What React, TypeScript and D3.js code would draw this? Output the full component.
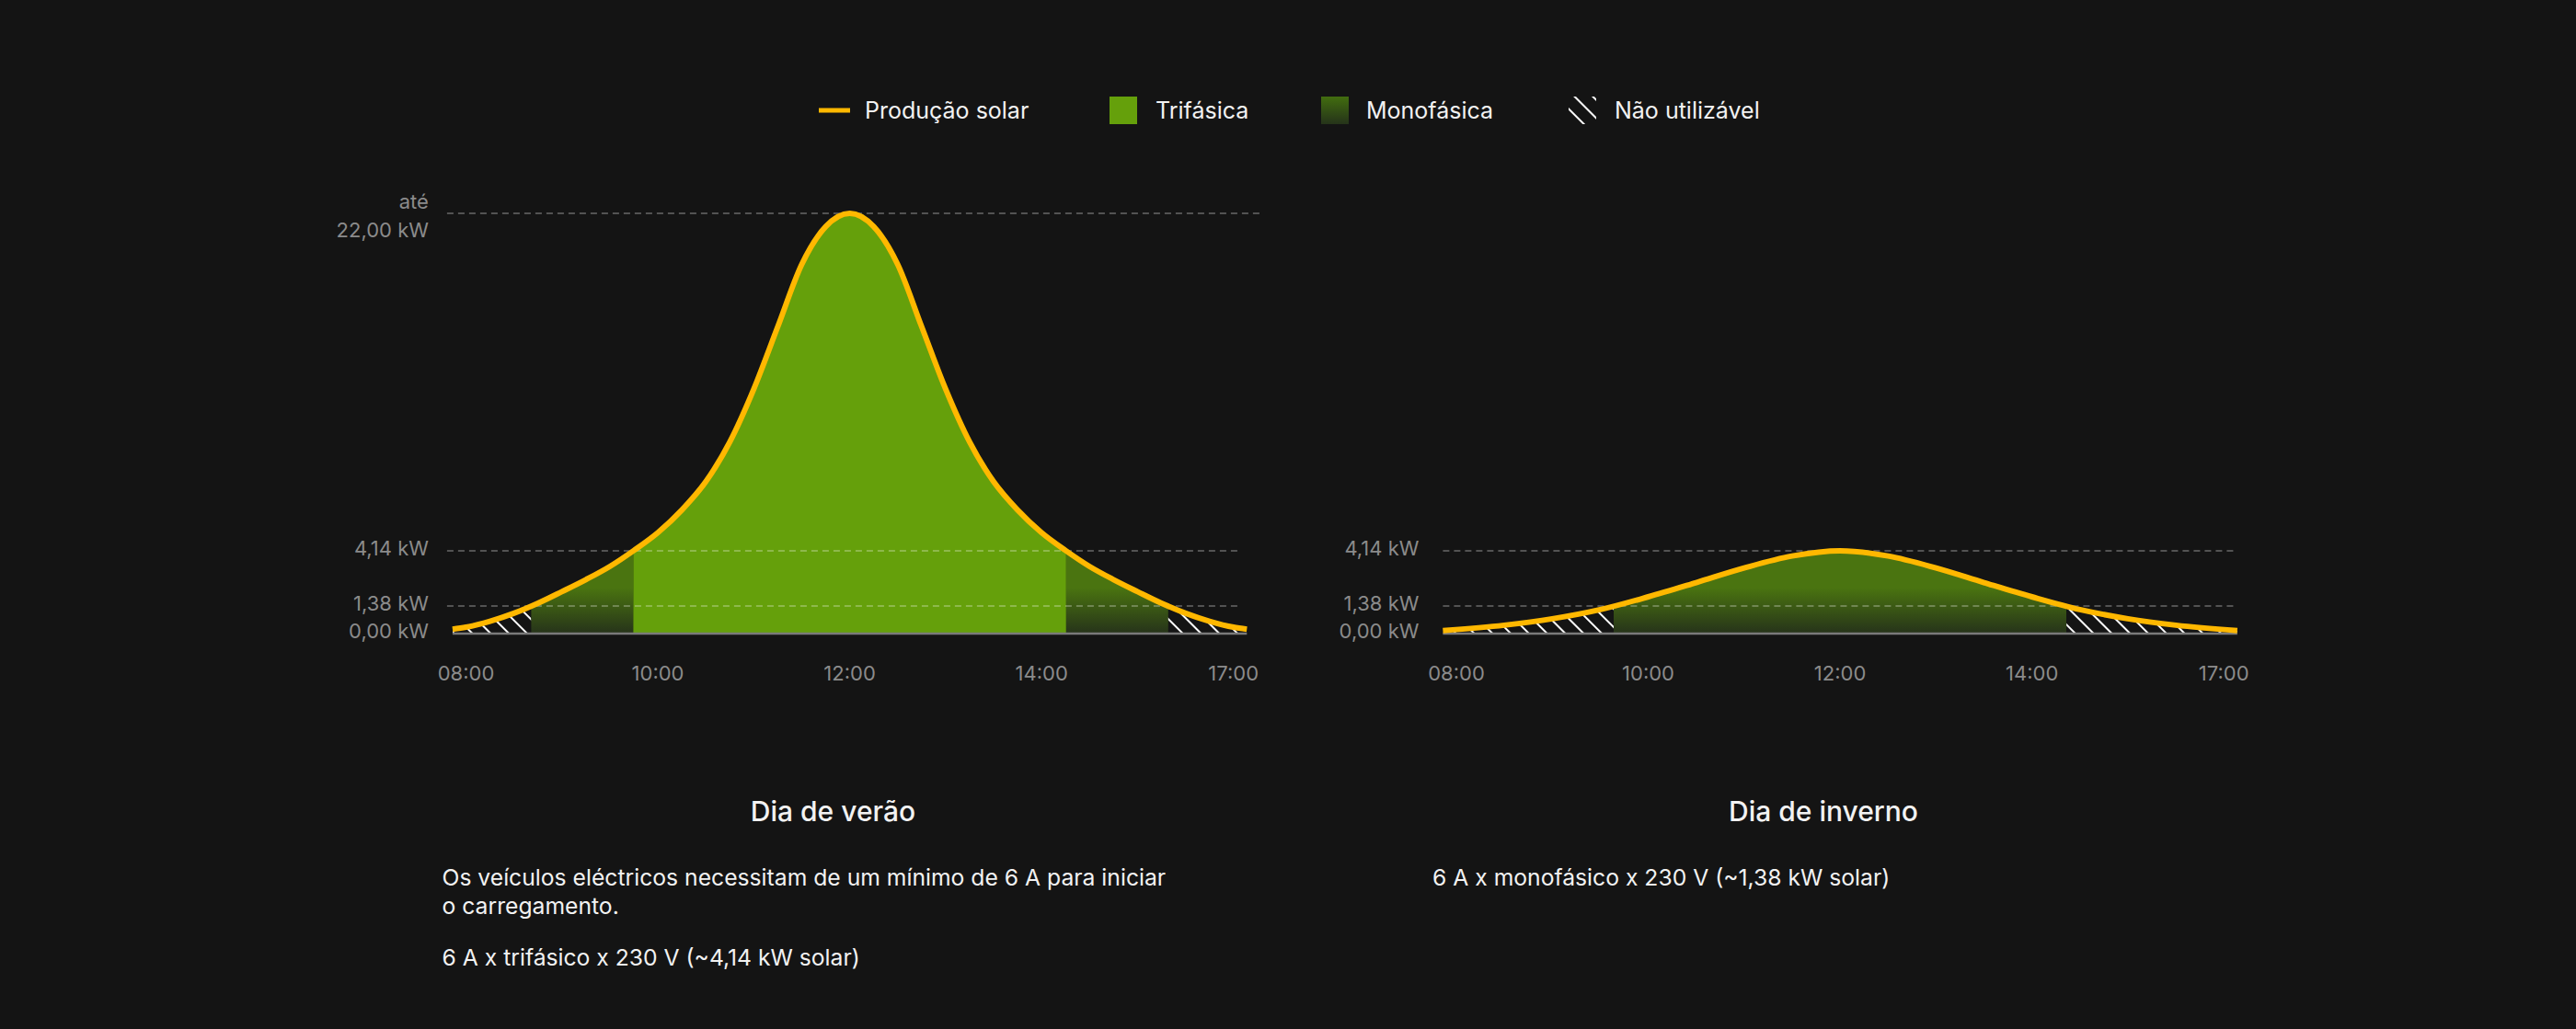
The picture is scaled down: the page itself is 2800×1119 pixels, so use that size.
import * as d3 from 'd3';

// Time axis (hours) and the labels printed under it
const hourTicks = [8, 10, 12, 14, 16];
const hourLabels = ['08:00', '10:00', '12:00', '14:00', '17:00'];

// Power reference levels (kW)
const threePhaseKw = 4.14;
const singlePhaseKw = 1.38;
const maxKw = 22;
const summerLevels = [0, 1.38, 4.14, 22];
const summerLevelLabels = ['0,00 kW', '1,38 kW', '4,14 kW', '22,00 kW'];
const winterLevels = [0, 1.38, 4.14];
const winterLevelLabels = ['0,00 kW', '1,38 kW', '4,14 kW'];

// Summer day solar production (hour, kW)
const summerHours = [7.86, 8.0, 8.25, 8.5, 8.75, 9.0, 9.25, 9.5, 9.75, 10.0, 10.25, 10.5, 10.75, 11.0, 11.25, 11.5, 11.75, 12.0,
    12.25, 12.5, 12.75, 13.0, 13.25, 13.5, 13.75, 14.0, 14.25, 14.5, 14.75, 15.0, 15.25, 15.5, 15.75, 16.0, 16.14];
const summerKw = [0.22, 0.32, 0.62, 1.02, 1.52, 2.1, 2.7, 3.36, 4.16, 5.1, 6.3, 7.8, 9.9, 12.7, 16.0, 19.3, 21.3, 22.0,
    21.3, 19.3, 16.0, 12.7, 9.9, 7.8, 6.3, 5.1, 4.16, 3.36, 2.7, 2.1, 1.52, 1.02, 0.62, 0.32, 0.22];

// Winter day solar production (hour, kW)
const winterHours = [7.86, 8.5, 9.0, 9.5, 10.0, 10.5, 11.0, 11.5, 12.0, 12.5, 13.0, 13.5, 14.0, 14.5, 15.0, 15.5, 16.14];
const winterKw = [0.15, 0.42, 0.74, 1.2, 1.84, 2.55, 3.28, 3.88, 4.14, 3.88, 3.28, 2.55, 1.84, 1.2, 0.74, 0.42, 0.15];

const legendLabels = ['Produção solar', 'Trifásica', 'Monofásica', 'Não utilizável'];
const panelTitles = ['Dia de verão', 'Dia de inverno'];
const summerNotes = [
    ['Os veículos eléctricos necessitam de um mínimo de 6 A para iniciar', 'o carregamento.'],
    ['6 A x trifásico x 230 V (~4,14 kW solar)'],
];
const winterNotes = [['6 A x monofásico x 230 V (~1,38 kW solar)']];

// Colours
const BG = '#141414';
const SUN = '#ffb800';
const TRI = '#65a00b';
const MONO_TOP = '#4a7410';
const MONO_BOTTOM = '#26331a';
const MUTED = '#8b8b8b';
const TEXT = '#f2f2f2';
const FONT = 'Inter, "Noto Sans", sans-serif';

// Layout
const WIDTH = 2800;
const HEIGHT = 1119;
const PLOT_BOTTOM = 689;
const PLOT_TOP = 232;
const PANEL_SHIFT = 1076.5;

interface Point { h: number; kw: number; }
interface Band { from: number; to: number; kind: 'tri' | 'mono' | 'none'; }

// Find the hours where the curve crosses a power level (linear between samples)
const crossings = (pts: Point[], level: number): number[] => {
    const out: number[] = [];
    for (let i = 1; i < pts.length; i++) {
        const a = pts[i - 1], b = pts[i];
        if ((a.kw - level) * (b.kw - level) < 0 || (b.kw === level && a.kw !== level)) {
            const t = (level - a.kw) / (b.kw - a.kw);
            out.push(a.h + t * (b.h - a.h));
        }
    }
    return out;
};

// Split the day into usable / unusable bands
const buildBands = (pts: Point[], useThreePhase: boolean): Band[] => {
    const start = pts[0].h, end = pts[pts.length - 1].h;
    const cuts = [start, ...crossings(pts, singlePhaseKw)];
    if (useThreePhase) cuts.push(...crossings(pts, threePhaseKw));
    cuts.push(end);
    const sorted = Array.from(new Set(cuts)).sort((a, b) => a - b);
    const interp = d3.scaleLinear().domain(pts.map(p => p.h)).range(pts.map(p => p.kw));
    const bands: Band[] = [];
    for (let i = 1; i < sorted.length; i++) {
        const mid = interp((sorted[i - 1] + sorted[i]) / 2);
        let kind: Band['kind'] = 'none';
        if (useThreePhase && mid >= threePhaseKw) kind = 'tri';
        else if (mid >= singlePhaseKw) kind = 'mono';
        bands.push({ from: sorted[i - 1], to: sorted[i], kind });
    }
    return bands;
};

interface PanelProps {
    id: string;
    shift: number;
    hours: number[];
    kw: number[];
    levels: number[];
    levelLabels: string[];
    useThreePhase: boolean;
    title: string;
    notes: string[][];
}

const Panel = ({ id, shift, hours, kw, levels, levelLabels, useThreePhase, title, notes }: PanelProps) => {
    const pts: Point[] = hours.map((h, i) => ({ h, kw: kw[i] }));
    const x = d3.scaleLinear().domain([8, 16]).range([506.5 + shift, 1340.7 + shift]);
    const y = d3.scaleLinear().domain([0, threePhaseKw, maxKw]).range([PLOT_BOTTOM, PLOT_BOTTOM - 90, PLOT_TOP]);

    const area = d3.area<Point>().x(d => x(d.h)).y0(y(0)).y1(d => y(d.kw)).curve(d3.curveMonotoneX);
    const line = d3.line<Point>().x(d => x(d.h)).y(d => y(d.kw)).curve(d3.curveMonotoneX);
    const bands = buildBands(pts, useThreePhase);

    const x0 = x(hours[0]);
    const x1 = x(hours[hours.length - 1]);
    const fillFor = (kind: Band['kind']) =>
        kind === 'tri' ? TRI : kind === 'mono' ? `url(#mono-${id})` : 'url(#hatch)';

    // Text column under the chart
    const colX = x(8) - 26;
    const colW = 850;

    return (
        <g>
            <defs>
                <linearGradient id={`mono-${id}`} gradientUnits="userSpaceOnUse" x1="0" x2="0" y1={y(2.3)} y2={y(0)}>
                    <stop offset="0" stopColor={MONO_TOP} />
                    <stop offset="1" stopColor={MONO_BOTTOM} />
                </linearGradient>
                {bands.map((b, i) => (
                    <clipPath key={i} id={`band-${id}-${i}`}>
                        <rect x={x(b.from)} y={0} width={x(b.to) - x(b.from)} height={HEIGHT} />
                    </clipPath>
                ))}
            </defs>

            {/* Filled bands under the production curve */}
            {bands.map((b, i) => (
                <path key={i} d={area(pts) ?? ''} fill={fillFor(b.kind)} clipPath={`url(#band-${id}-${i})`} />
            ))}

            {/* Dashed reference levels */}
            {levels.filter(l => l > 0).map(l => (
                <line key={l} x1={x0 - (useThreePhase ? 6 : 0)} x2={l === maxKw ? x1 + 18 : x1 - (useThreePhase ? 7 : 0)}
                      y1={y(l)} y2={y(l)} stroke="#ffffff" strokeOpacity={0.36} strokeWidth={1.5} strokeDasharray="7 5" />
            ))}

            {/* Baseline */}
            <line x1={x0} x2={x1} y1={y(0)} y2={y(0)} stroke="#7a7a7a" strokeWidth={2.5} />

            {/* Production curve */}
            <path d={line(pts) ?? ''} fill="none" stroke={SUN} strokeWidth={6} strokeLinejoin="round" />

            {/* Level labels */}
            <g fontFamily={FONT} fontSize={22} fill={MUTED} textAnchor="end">
                {levels.map((l, i) => l === maxKw ? (
                    <g key={l}>
                        <text x={x0 - 26} y={y(l) - 5}>até</text>
                        <text x={x0 - 26} y={y(l) + 26}>{levelLabels[i]}</text>
                    </g>
                ) : (
                    <text key={l} x={x0 - 26} y={y(l) - 3} dominantBaseline="central">{levelLabels[i]}</text>
                ))}
            </g>

            {/* Time labels */}
            <g fontFamily={FONT} fontSize={22} fill={MUTED} textAnchor="middle">
                {hourTicks.map((h, i) => (
                    <text key={h} x={x(h)} y={740}>{hourLabels[i]}</text>
                ))}
            </g>

            {/* Title and notes */}
            <text x={colX + colW / 2} y={893} textAnchor="middle" fontFamily={FONT} fontSize={30} fontWeight={500} fill={TEXT}>
                {title}
            </text>
            <g fontFamily={FONT} fontSize={24.7} fill={TEXT}>
                {notes.map((para, p) => para.map((ln, k) => (
                    <text key={`${p}-${k}`} x={colX} y={963 + p * 87 + k * 31}>{ln}</text>
                )))}
            </g>
        </g>
    );
};

const Legend = () => {
    const itemX = [890, 1206, 1436, 1705];
    const textX = [940, 1256, 1485, 1755];
    return (
        <g fontFamily={FONT} fontSize={25} fill={TEXT}>
            <defs>
                <linearGradient id="mono-swatch" x1="0" x2="0" y1="0" y2="1">
                    <stop offset="0" stopColor="#426d0f" />
                    <stop offset="1" stopColor="#25331a" />
                </linearGradient>
            </defs>
            <rect x={itemX[0]} y={117.5} width={34} height={5} fill={SUN} />
            <rect x={itemX[1]} y={105} width={30} height={30} fill={TRI} />
            <rect x={itemX[2]} y={105} width={30} height={30} fill="url(#mono-swatch)" />
            <rect x={itemX[3]} y={105} width={30} height={30} fill="url(#hatch)" />
            {legendLabels.map((t, i) => (
                <text key={t} x={textX[i]} y={129}>{t}</text>
            ))}
        </g>
    );
};

export default function App() {
    return (
        <svg width={WIDTH} height={HEIGHT} viewBox={`0 0 ${WIDTH} ${HEIGHT}`}
             style={{ position: 'absolute', left: 0, top: 0, display: 'block' }}>
            <defs>
                <pattern id="hatch" patternUnits="userSpaceOnUse" width={14} height={14} patternTransform="rotate(-45)">
                    <line x1={2} x2={2} y1={0} y2={14} stroke="#ffffff" strokeWidth={2} />
                </pattern>
            </defs>
            <rect width={WIDTH} height={HEIGHT} fill={BG} />
            <Legend />
            <Panel id="summer" shift={0} hours={summerHours} kw={summerKw} levels={summerLevels}
                   levelLabels={summerLevelLabels} useThreePhase={true} title={panelTitles[0]} notes={summerNotes} />
            <Panel id="winter" shift={PANEL_SHIFT} hours={winterHours} kw={winterKw} levels={winterLevels}
                   levelLabels={winterLevelLabels} useThreePhase={false} title={panelTitles[1]} notes={winterNotes} />
        </svg>
    );
}
